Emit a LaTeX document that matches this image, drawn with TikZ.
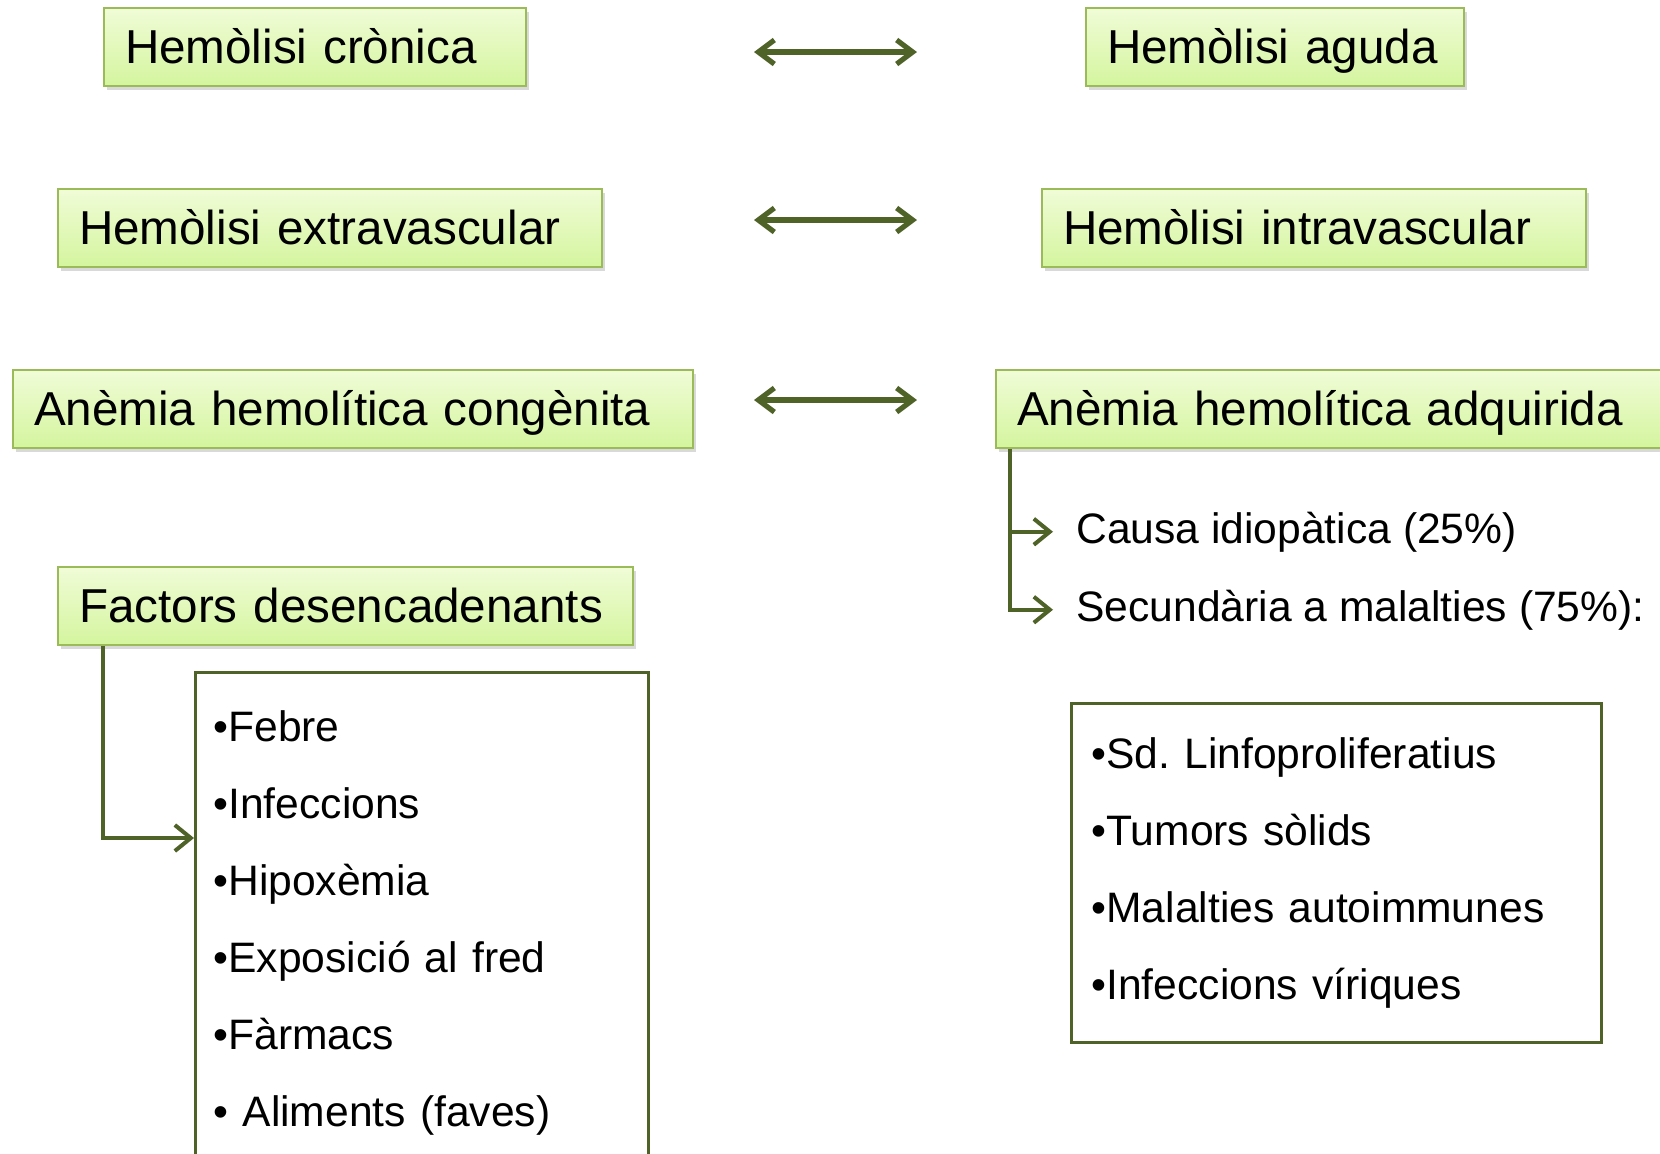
\documentclass[tikz,border=0pt]{standalone}
\usepackage{fontspec}
\setmainfont{Liberation Sans}
\usetikzlibrary{arrows.meta, positioning, shadows}

\definecolor{vorera}{RGB}{155,187,89}
\definecolor{fonsdalt}{RGB}{240,252,215}
\definecolor{fonsbaix}{RGB}{212,245,158}
\definecolor{verdfosc}{RGB}{79,98,40}

\tikzset{
  titol/.style={draw=vorera, line width=1pt, top color=fonsdalt, bottom color=fonsbaix,
    anchor=north west, inner xsep=10.5pt, inner ysep=0pt, minimum height=39pt, align=left,
    text height=23pt, text depth=7pt, font=\fontsize{23.8}{28}\selectfont,
    drop shadow={shadow xshift=1.5pt, shadow yshift=-2pt, opacity=0.3}},
  llista/.style={draw=verdfosc, line width=1.5pt, fill=white, anchor=north west,
    align=left, font=\frenchspacing\fontsize{21.3}{38.5}\selectfont},
  etiqueta/.style={anchor=base west, inner sep=0pt, font=\fontsize{21.3}{26}\selectfont},
  fletxa/.style={draw=verdfosc, line width=2pt, -{Straight Barb[length=8pt, width=13pt]}},
  doble/.style={draw=verdfosc, line width=2.6pt,
    {Straight Barb[length=8pt, width=12pt]}-{Straight Barb[length=8pt, width=12pt]}}
}

\begin{document}
\begin{tikzpicture}[x=0.5pt, y=-0.5pt]
    \useasboundingbox (0,0) rectangle (1660,1153);
    % Parelles
    \node[titol, text width=190pt] (cronica) at (103,7) {Hemòlisi crònica};
    \node[titol, text width=168pt] (aguda) at (1085,7) {Hemòlisi aguda};
    \node[titol, text width=251pt] (extra) at (57,188) {Hemòlisi extravascular};
    \node[titol, text width=251pt] (intra) at (1041,188) {Hemòlisi intravascular};
    \node[titol, text width=319pt] (congenita) at (12,369) {Anèmia hemolítica congènita};
    \node[titol, text width=324pt] (adquirida) at (995,369) {Anèmia hemolítica adquirida};
    \node[titol, text width=266.5pt] (factors) at (57,566) {Factors desencadenants};

    % Fletxes dobles
    \coordinate (e1) at (754,52);  \coordinate (d1) at (917,52);
    \coordinate (e2) at (754,220); \coordinate (d2) at (917,220);
    \coordinate (e3) at (754,400); \coordinate (d3) at (917,400);
    \draw[doble] (e1) -- (d1);
    \draw[doble] (e2) -- (d2);
    \draw[doble] (e3) -- (d3);

    % Adquirida
    \node[etiqueta] (causa) at (1076,543) {Causa idiopàtica (25\%)};
    \node[etiqueta] (secund) at (1076,621) {Secundària a malalties (75\%):};
    \draw[fletxa] ([xshift=7.5pt]adquirida.south west) |- ([xshift=-11.5pt]secund.west);
    \draw[fletxa] ([xshift=7.5pt]adquirida.south west) |- ([xshift=-11.5pt]causa.west);
    \node[llista, text width=245pt, inner xsep=10pt, inner ysep=17pt] (malalties) at (1070,702)
        {•Sd. Linfoproliferatius\\•Tumors sòlids\\•Malalties autoimmunes\\•Infeccions víriques};

    % Factors
    \node[llista, text width=208.5pt, inner xsep=9pt, inner ysep=19pt] (llistaf) at (194,671)
        {•Febre\\•Infeccions\\•Hipoxèmia\\•Exposició al fred\\•Fàrmacs\\• Aliments (faves)};
    \draw[fletxa] ([xshift=23pt]factors.south west) |- ([yshift=-83.5pt]llistaf.north west);
\end{tikzpicture}
\end{document}
